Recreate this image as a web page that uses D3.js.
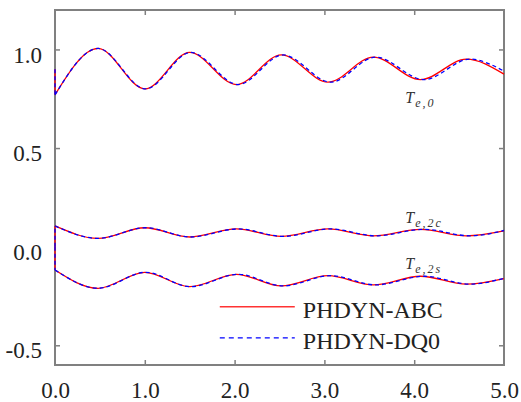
<!DOCTYPE html>
<html>
<head>
<meta charset="utf-8">
<script src="https://cdn.jsdelivr.net/npm/d3@7"></script>
<style>
  body { margin: 0; background: #fff; }
  svg { display: block; font-family: "Liberation Serif", "Times New Roman", serif; }
</style>
</head>
<body>
<div id="chart"></div>
<script>
// jump at t = 0 : [value before, value after]
var jumpTe0 = [0.90, 0.77],
    jumpTe2c = [0.0, 0.105],
    jumpTe2s = [0.0, -0.118];

// knot times (start, extrema, end)
var tAbc = [0, 0.48, 1.00, 1.50, 2.02, 2.52, 3.04, 3.545, 4.07, 4.58, 5.0];
var tDq0 = [0, 0.48, 1.01, 1.51, 2.04, 2.54, 3.07, 3.57, 4.11, 4.62, 5.0];

var te0Abc  = [0.77, 1.005, 0.800, 0.985, 0.822, 0.972, 0.834, 0.961, 0.847, 0.951, 0.875];
var te0Dq0  = [0.77, 1.005, 0.800, 0.985, 0.822, 0.972, 0.834, 0.961, 0.847, 0.951, 0.890];
var te2cAbc = [0.105, 0.042, 0.096, 0.049, 0.090, 0.052, 0.090, 0.055, 0.088, 0.055, 0.080];
var te2cDq0 = [0.105, 0.042, 0.096, 0.049, 0.090, 0.052, 0.090, 0.055, 0.088, 0.055, 0.082];
var te2sAbc = [-0.118, -0.211, -0.130, -0.203, -0.140, -0.199, -0.147, -0.194, -0.150, -0.190, -0.162];
var te2sDq0 = [-0.118, -0.211, -0.130, -0.203, -0.140, -0.199, -0.147, -0.194, -0.150, -0.190, -0.160];

var xTicks = [0, 1, 2, 3, 4, 5],
    yTicks = [-0.5, 0.0, 0.5, 1.0];
var legendNames = ["PHDYN-ABC", "PHDYN-DQ0"];

var margin = {top: 10, right: 17, bottom: 37, left: 55},
    width = 521 - margin.left - margin.right,
    height = 402 - margin.top - margin.bottom;

var x = d3.scaleLinear().domain([0, 5]).range([0, width]);
var y = d3.scaleLinear().domain([-0.6, 1.2]).range([height, 0]);

var svg = d3.select("#chart").append("svg")
    .attr("width", 521)
    .attr("height", 402)
  .append("g")
    .attr("transform", "translate(" + margin.left + "," + margin.top + ")");

var frameColor = "#808080",
    textColor = "#222",
    serif = "'Liberation Serif', 'Times New Roman', serif";

// plain hyphen for negatives, like the original
var fmt = function(d) { return d3.format(".1f")(d).replace("\u2212", "-"); };

// inside ticks on all four sides, labels only left and bottom
var xBottom = d3.axisBottom(x).tickValues(xTicks).tickSizeInner(-5).tickSizeOuter(0).tickFormat(fmt);
var xTop = d3.axisTop(x).tickValues(xTicks).tickSizeInner(-5).tickSizeOuter(0).tickFormat("");
var yLeft = d3.axisLeft(y).tickValues(yTicks).tickSizeInner(-5).tickSizeOuter(0).tickPadding(13).tickFormat(fmt);
var yRight = d3.axisRight(y).tickValues(yTicks).tickSizeInner(-5).tickSizeOuter(0).tickFormat("");

function styleAxis(g) {
  g.attr("font-family", serif).attr("font-size", 23);
  g.select(".domain").remove();
  g.selectAll(".tick line").attr("stroke", frameColor).attr("stroke-width", 1.5);
  g.selectAll(".tick text")
    .attr("fill", textColor)
    .style("font-family", serif)
    .style("font-size", "23px");
}

svg.append("g").attr("transform", "translate(0," + height + ")").call(xBottom).call(styleAxis)
  .selectAll(".tick text").attr("y", 33).attr("dy", 0);
svg.append("g").call(xTop).call(styleAxis);
svg.append("g").call(yLeft).call(styleAxis)
  .selectAll(".tick text").attr("dy", "0.55em");
svg.append("g").attr("transform", "translate(" + width + ",0)").call(yRight).call(styleAxis);

// hide tick marks sitting on the frame corners
svg.selectAll(".tick").filter(function(d) { return d === 0 || d === 5; })
  .select("line").attr("stroke", "none");

svg.append("rect")
    .attr("width", width)
    .attr("height", height)
    .attr("fill", "none")
    .attr("stroke", frameColor)
    .attr("stroke-width", 2);

var jumpLine = d3.line().x(function(d) { return x(d[0]); }).y(function(d) { return y(d[1]); });
var smoothLine = d3.line()
    .x(function(d) { return x(d[0]); })
    .y(function(d) { return y(d[1]); })
    .curve(d3.curveMonotoneX);

function pathD(jump, ts, vs) {
  var pts = ts.map(function(t, i) { return [t, vs[i]]; });
  return jumpLine([[0, jump[0]], [0, jump[1]]]) + smoothLine(pts);
}

var series = [
  {jump: jumpTe0, t: tAbc, v: te0Abc, kind: 0},
  {jump: jumpTe2c, t: tAbc, v: te2cAbc, kind: 0},
  {jump: jumpTe2s, t: tAbc, v: te2sAbc, kind: 0},
  {jump: jumpTe0, t: tDq0, v: te0Dq0, kind: 1},
  {jump: jumpTe2c, t: tDq0, v: te2cDq0, kind: 1},
  {jump: jumpTe2s, t: tDq0, v: te2sDq0, kind: 1}
];

svg.selectAll("path.curve")
  .data(series)
  .enter().append("path")
    .attr("class", "curve")
    .attr("d", function(d) { return pathD(d.jump, d.t, d.v); })
    .attr("fill", "none")
    .attr("stroke", function(d) { return d.kind ? "#0000ff" : "#ff0000"; })
    .attr("stroke-width", 1.3)
    .attr("stroke-dasharray", function(d) { return d.kind ? "4,3" : null; });

// curve labels T_{e,...}
var labels = [
  {sub: "e,0", t: 3.9, v: 0.728},
  {sub: "e,2c", t: 3.9, v: 0.12},
  {sub: "e,2s", t: 3.9, v: -0.115}
];
var lab = svg.selectAll("text.lab")
  .data(labels)
  .enter().append("text")
    .attr("class", "lab")
    .attr("x", function(d) { return x(d.t); })
    .attr("y", function(d) { return y(d.v); })
    .attr("fill", "#333")
    .style("font-family", serif);
lab.append("tspan").style("font-style", "italic").style("font-size", "16px").text("T");
lab.append("tspan")
    .attr("dx", 1).attr("dy", 4)
    .style("font-style", "italic").style("font-size", "12px")
    .style("letter-spacing", "2px")
    .text(function(d) { return d.sub; });

// legend
var legend = svg.selectAll("g.legend")
  .data(legendNames)
  .enter().append("g")
    .attr("class", "legend")
    .attr("transform", function(d, i) { return "translate(" + (x(1.835)) + "," + y(-0.305 - i * 0.157) + ")"; });

legend.append("line")
    .attr("x1", 0).attr("x2", 75)
    .attr("stroke", function(d, i) { return i ? "#0000ff" : "#ff3333"; })
    .attr("stroke-width", function(d, i) { return i ? 1.2 : 1.6; })
    .attr("stroke-dasharray", function(d, i) { return i ? "5,4" : null; });

legend.append("text")
    .attr("x", 83)
    .attr("y", 11)
    .attr("fill", textColor)
    .style("font-size", "24px")
    .text(function(d) { return d; });
</script>
</body>
</html>
